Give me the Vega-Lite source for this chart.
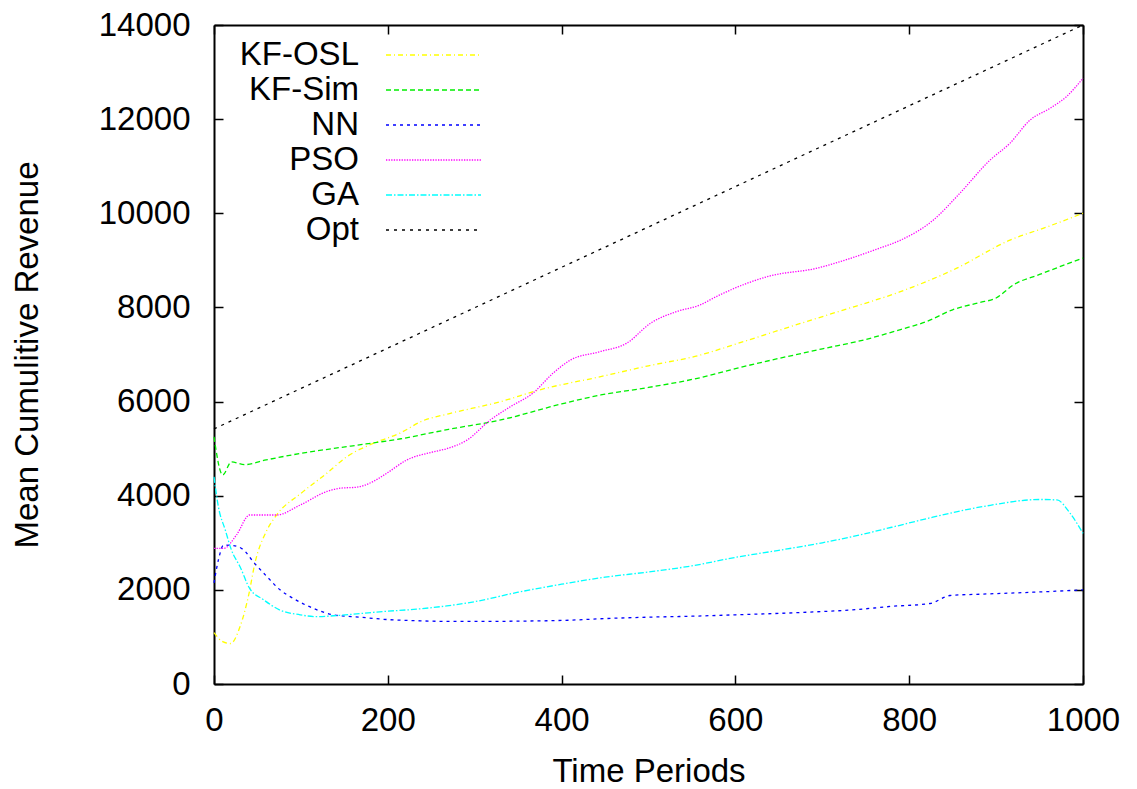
{
  "$schema": "https://vega.github.io/schema/vega-lite/v6.json",
  "width": 869,
  "height": 659,
  "autosize": {"type": "none"},
  "padding": {"left": 214, "top": 25, "right": 54, "bottom": 105},
  "background": "white",
  "config": {
    "view": {"stroke": null},
    "font": "Liberation Sans",
    "axis": {
      "labelFont": "Liberation Sans",
      "labelFontSize": 33,
      "labelColor": "black",
      "titleFont": "Liberation Sans",
      "titleFontSize": 33,
      "titleFontWeight": "normal",
      "titleColor": "black",
      "domainColor": "black",
      "domainWidth": 2,
      "tickColor": "black",
      "tickWidth": 1.5,
      "tickSize": -9,
      "grid": false
    },
    "legend": {
      "title": null, "orient": "none", "legendX": 168, "legendY": 13.5, "padding": 0,
      "symbolType": "M-5,0H5", "symbolSize": 361, "symbolStrokeWidth": 1.3, "symbolOffset": 35,
      "rowPadding": 1, "labelAlign": "right", "labelOffset": -91,
      "labelFontSize": 33, "labelFont": "Liberation Sans", "labelColor": "black", "labelLimit": 0
    }
  },
  "data": {
    "values": [
      {"t": 0, "v": 1090, "s": "KF-OSL"}, {"t": 10, "v": 900, "s": "KF-OSL"}, {"t": 19, "v": 860, "s": "KF-OSL"}, {"t": 30, "v": 1220, "s": "KF-OSL"}, {"t": 40, "v": 1900, "s": "KF-OSL"}, {"t": 47, "v": 2560, "s": "KF-OSL"}, {"t": 61, "v": 3270, "s": "KF-OSL"}, {"t": 72, "v": 3590, "s": "KF-OSL"}, {"t": 100, "v": 4050, "s": "KF-OSL"}, {"t": 130, "v": 4480, "s": "KF-OSL"}, {"t": 153, "v": 4830, "s": "KF-OSL"}, {"t": 183, "v": 5110, "s": "KF-OSL"}, {"t": 214, "v": 5330, "s": "KF-OSL"}, {"t": 240, "v": 5590, "s": "KF-OSL"}, {"t": 270, "v": 5740, "s": "KF-OSL"}, {"t": 330, "v": 6000, "s": "KF-OSL"}, {"t": 375, "v": 6250, "s": "KF-OSL"}, {"t": 445, "v": 6530, "s": "KF-OSL"}, {"t": 500, "v": 6760, "s": "KF-OSL"}, {"t": 560, "v": 6990, "s": "KF-OSL"}, {"t": 600, "v": 7220, "s": "KF-OSL"}, {"t": 675, "v": 7660, "s": "KF-OSL"}, {"t": 720, "v": 7920, "s": "KF-OSL"}, {"t": 789, "v": 8330, "s": "KF-OSL"}, {"t": 851, "v": 8800, "s": "KF-OSL"}, {"t": 916, "v": 9430, "s": "KF-OSL"}, {"t": 960, "v": 9720, "s": "KF-OSL"}, {"t": 1000, "v": 10000, "s": "KF-OSL"},
      {"t": 0, "v": 5250, "s": "KF-Sim"}, {"t": 10, "v": 4440, "s": "KF-Sim"}, {"t": 20, "v": 4720, "s": "KF-Sim"}, {"t": 35, "v": 4660, "s": "KF-Sim"}, {"t": 60, "v": 4760, "s": "KF-Sim"}, {"t": 100, "v": 4900, "s": "KF-Sim"}, {"t": 140, "v": 5010, "s": "KF-Sim"}, {"t": 175, "v": 5100, "s": "KF-Sim"}, {"t": 215, "v": 5210, "s": "KF-Sim"}, {"t": 270, "v": 5410, "s": "KF-Sim"}, {"t": 330, "v": 5610, "s": "KF-Sim"}, {"t": 400, "v": 5950, "s": "KF-Sim"}, {"t": 445, "v": 6140, "s": "KF-Sim"}, {"t": 500, "v": 6300, "s": "KF-Sim"}, {"t": 560, "v": 6510, "s": "KF-Sim"}, {"t": 600, "v": 6700, "s": "KF-Sim"}, {"t": 700, "v": 7120, "s": "KF-Sim"}, {"t": 750, "v": 7320, "s": "KF-Sim"}, {"t": 790, "v": 7530, "s": "KF-Sim"}, {"t": 820, "v": 7700, "s": "KF-Sim"}, {"t": 850, "v": 7950, "s": "KF-Sim"}, {"t": 880, "v": 8100, "s": "KF-Sim"}, {"t": 900, "v": 8200, "s": "KF-Sim"}, {"t": 920, "v": 8480, "s": "KF-Sim"}, {"t": 950, "v": 8700, "s": "KF-Sim"}, {"t": 1000, "v": 9050, "s": "KF-Sim"},
      {"t": 0, "v": 2150, "s": "NN"}, {"t": 5, "v": 2630, "s": "NN"}, {"t": 11, "v": 2950, "s": "NN"}, {"t": 22, "v": 2940, "s": "NN"}, {"t": 34, "v": 2850, "s": "NN"}, {"t": 45, "v": 2600, "s": "NN"}, {"t": 61, "v": 2280, "s": "NN"}, {"t": 76, "v": 2000, "s": "NN"}, {"t": 91, "v": 1820, "s": "NN"}, {"t": 114, "v": 1610, "s": "NN"}, {"t": 137, "v": 1470, "s": "NN"}, {"t": 168, "v": 1420, "s": "NN"}, {"t": 199, "v": 1370, "s": "NN"}, {"t": 233, "v": 1345, "s": "NN"}, {"t": 268, "v": 1330, "s": "NN"}, {"t": 300, "v": 1330, "s": "NN"}, {"t": 400, "v": 1350, "s": "NN"}, {"t": 450, "v": 1390, "s": "NN"}, {"t": 500, "v": 1420, "s": "NN"}, {"t": 550, "v": 1440, "s": "NN"}, {"t": 600, "v": 1470, "s": "NN"}, {"t": 650, "v": 1500, "s": "NN"}, {"t": 700, "v": 1540, "s": "NN"}, {"t": 732, "v": 1570, "s": "NN"}, {"t": 780, "v": 1650, "s": "NN"}, {"t": 824, "v": 1710, "s": "NN"}, {"t": 847, "v": 1880, "s": "NN"}, {"t": 885, "v": 1910, "s": "NN"}, {"t": 943, "v": 1950, "s": "NN"}, {"t": 1000, "v": 2000, "s": "NN"},
      {"t": 0, "v": 2880, "s": "PSO"}, {"t": 11, "v": 2880, "s": "PSO"}, {"t": 26, "v": 3170, "s": "PSO"}, {"t": 41, "v": 3590, "s": "PSO"}, {"t": 57, "v": 3590, "s": "PSO"}, {"t": 72, "v": 3590, "s": "PSO"}, {"t": 99, "v": 3800, "s": "PSO"}, {"t": 130, "v": 4090, "s": "PSO"}, {"t": 145, "v": 4160, "s": "PSO"}, {"t": 164, "v": 4180, "s": "PSO"}, {"t": 183, "v": 4300, "s": "PSO"}, {"t": 199, "v": 4480, "s": "PSO"}, {"t": 222, "v": 4760, "s": "PSO"}, {"t": 252, "v": 4930, "s": "PSO"}, {"t": 268, "v": 5000, "s": "PSO"}, {"t": 291, "v": 5180, "s": "PSO"}, {"t": 318, "v": 5610, "s": "PSO"}, {"t": 341, "v": 5890, "s": "PSO"}, {"t": 367, "v": 6180, "s": "PSO"}, {"t": 390, "v": 6600, "s": "PSO"}, {"t": 410, "v": 6880, "s": "PSO"}, {"t": 444, "v": 7060, "s": "PSO"}, {"t": 475, "v": 7240, "s": "PSO"}, {"t": 502, "v": 7660, "s": "PSO"}, {"t": 532, "v": 7910, "s": "PSO"}, {"t": 559, "v": 8050, "s": "PSO"}, {"t": 578, "v": 8230, "s": "PSO"}, {"t": 613, "v": 8510, "s": "PSO"}, {"t": 640, "v": 8670, "s": "PSO"}, {"t": 693, "v": 8830, "s": "PSO"}, {"t": 732, "v": 9040, "s": "PSO"}, {"t": 766, "v": 9260, "s": "PSO"}, {"t": 789, "v": 9420, "s": "PSO"}, {"t": 828, "v": 9860, "s": "PSO"}, {"t": 858, "v": 10420, "s": "PSO"}, {"t": 893, "v": 11130, "s": "PSO"}, {"t": 916, "v": 11490, "s": "PSO"}, {"t": 939, "v": 11980, "s": "PSO"}, {"t": 962, "v": 12230, "s": "PSO"}, {"t": 981, "v": 12480, "s": "PSO"}, {"t": 1000, "v": 12870, "s": "PSO"},
      {"t": 0, "v": 4400, "s": "GA"}, {"t": 5, "v": 3770, "s": "GA"}, {"t": 13, "v": 3270, "s": "GA"}, {"t": 20, "v": 2850, "s": "GA"}, {"t": 30, "v": 2490, "s": "GA"}, {"t": 41, "v": 2030, "s": "GA"}, {"t": 57, "v": 1790, "s": "GA"}, {"t": 76, "v": 1570, "s": "GA"}, {"t": 99, "v": 1470, "s": "GA"}, {"t": 118, "v": 1430, "s": "GA"}, {"t": 145, "v": 1460, "s": "GA"}, {"t": 195, "v": 1540, "s": "GA"}, {"t": 233, "v": 1590, "s": "GA"}, {"t": 268, "v": 1660, "s": "GA"}, {"t": 300, "v": 1750, "s": "GA"}, {"t": 350, "v": 1950, "s": "GA"}, {"t": 400, "v": 2120, "s": "GA"}, {"t": 450, "v": 2270, "s": "GA"}, {"t": 500, "v": 2380, "s": "GA"}, {"t": 550, "v": 2510, "s": "GA"}, {"t": 600, "v": 2690, "s": "GA"}, {"t": 650, "v": 2840, "s": "GA"}, {"t": 700, "v": 3000, "s": "GA"}, {"t": 732, "v": 3120, "s": "GA"}, {"t": 780, "v": 3330, "s": "GA"}, {"t": 824, "v": 3530, "s": "GA"}, {"t": 885, "v": 3770, "s": "GA"}, {"t": 951, "v": 3920, "s": "GA"}, {"t": 970, "v": 3910, "s": "GA"}, {"t": 985, "v": 3630, "s": "GA"}, {"t": 1000, "v": 3200, "s": "GA"},
      {"t": 0, "v": 5420, "s": "Opt"}, {"t": 1000, "v": 14000, "s": "Opt"}
    ]
  },
  "layer": [
    {
      "mark": {"type": "line", "strokeWidth": 1.3, "interpolate": "monotone"},
      "encoding": {
        "x": {
          "field": "t", "type": "quantitative",
          "scale": {"domain": [0, 1000], "nice": false, "zero": false},
          "axis": {"values": [0, 200, 400, 600, 800, 1000], "format": "d", "title": "Time Periods", "labelPadding": 29, "titlePadding": 18, "labelFlush": false, "labelOverlap": false}
        },
        "y": {
          "field": "v", "type": "quantitative",
          "scale": {"domain": [0, 14000], "nice": false},
          "axis": {"values": [0, 2000, 4000, 6000, 8000, 10000, 12000, 14000], "title": "Mean Cumulitive Revenue", "labelPadding": 33, "titlePadding": 54, "format": "d", "labelFlush": false, "labelOverlap": false}
        },
        "color": {
          "field": "s", "type": "nominal",
          "scale": {"domain": ["KF-OSL", "KF-Sim", "NN", "PSO", "GA", "Opt"], "range": ["#ffff00", "#00ee00", "#0000ff", "#ff00ff", "#00ffff", "#000000"]},
          "legend": {"title": null}
        },
        "strokeDash": {
          "field": "s", "type": "nominal",
          "scale": {"domain": ["KF-OSL", "KF-Sim", "NN", "PSO", "GA", "Opt"], "range": [[5, 3, 1, 3], [5, 3], [3, 4], [1.3, 1.3], [6, 2, 1.5, 2], [3, 5]]},
          "legend": {"title": null}
        }
      }
    },
    {
      "mark": {"type": "point", "opacity": 0},
      "encoding": {
        "x": {"field": "t", "type": "quantitative", "axis": {"orient": "top", "values": [0, 200, 400, 600, 800, 1000], "labels": false, "title": null}},
        "y": {"field": "v", "type": "quantitative", "axis": {"orient": "right", "values": [0, 2000, 4000, 6000, 8000, 10000, 12000, 14000], "labels": false, "title": null}}
      }
    }
  ],
  "resolve": {"axis": {"x": "independent", "y": "independent"}}
}
